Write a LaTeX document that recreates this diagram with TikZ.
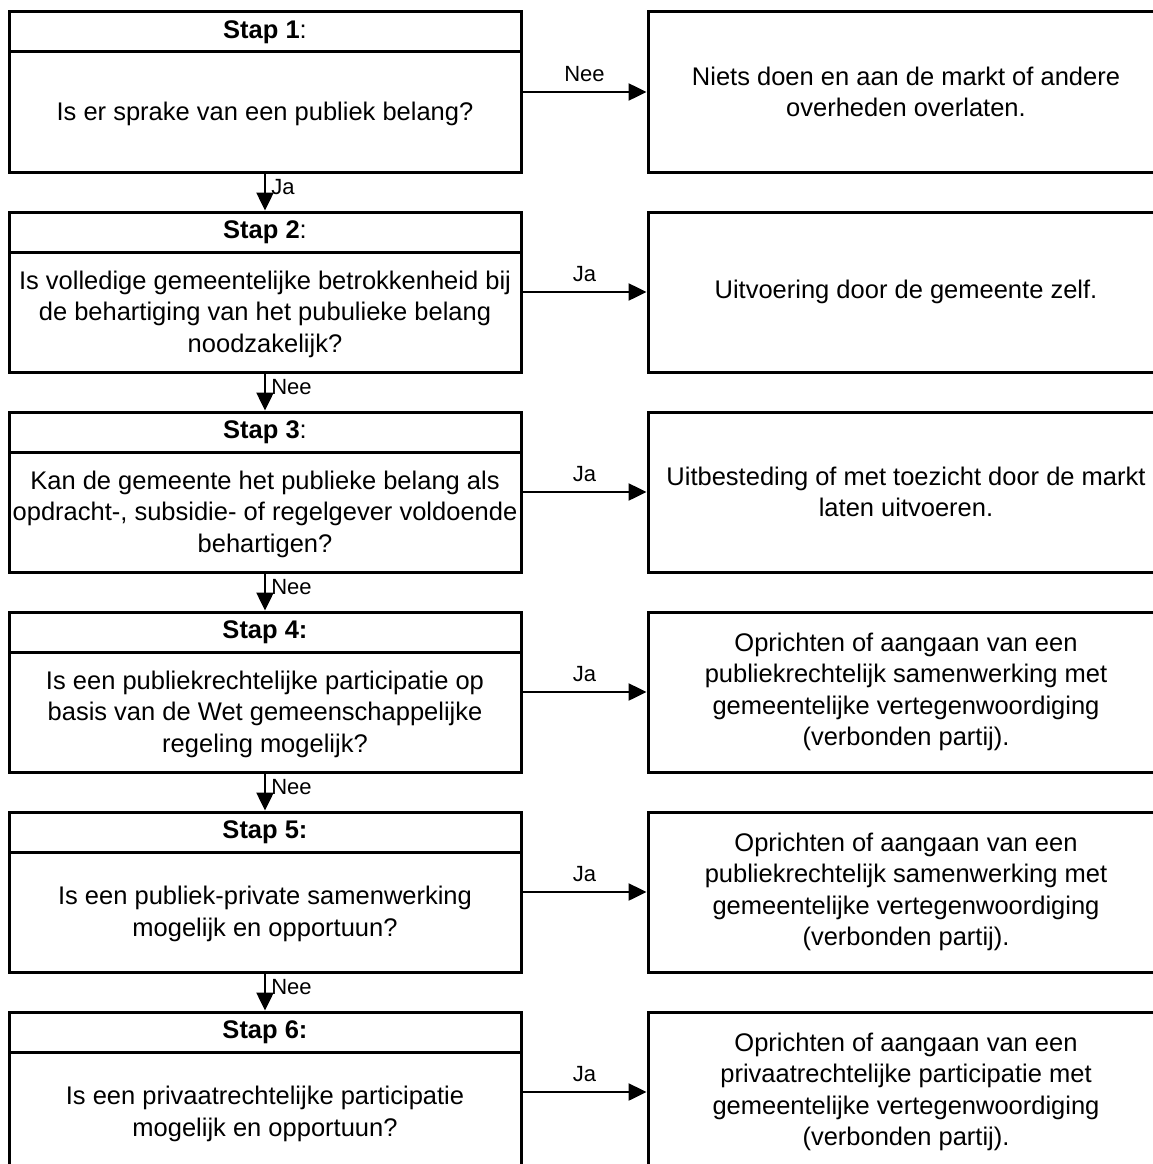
\documentclass[tikz,border=0pt]{standalone}
\usepackage{fontspec}
\setmainfont{Liberation Sans}
\usetikzlibrary{arrows.meta,positioning}

\tikzset{
  vak/.style={draw, line width=3pt, minimum width=512pt, minimum height=160pt, inner sep=0pt},
  kop/.style={draw, line width=3pt, minimum width=512pt, minimum height=40pt, inner sep=0pt,
    font=\fontsize{25.5}{31.5}\selectfont},
  vraag/.style={align=center, inner sep=0pt, font=\fontsize{25.5}{31.5}\selectfont},
  uitkomst/.style={draw, line width=3pt, minimum width=516pt, minimum height=160pt, inner sep=0pt,
    align=center, font=\fontsize{25.5}{31.5}\selectfont},
  pijl/.style={-{Triangle[length=18pt,width=17pt]}, line width=2.5pt},
  zij/.style={above=9pt, inner sep=0pt, font=\fontsize{22}{26}\selectfont},
  neer/.style={right=5pt, yshift=5pt, inner sep=0pt, font=\fontsize{22}{26}\selectfont}
}

\begin{document}
\begin{tikzpicture}[x=1pt, y=-1pt]
    \clip (0,0) rectangle (1153,1164);
    \useasboundingbox (0,0) rectangle (1153,1164);

    % Stap 1
    \node[vak] (stap1) at (265,92) {};
    \node[kop, anchor=north] (kop1) at (stap1.north) {\textbf{Stap 1}:};
    \node[vraag] (vraag1) at (265,114) {Is er sprake van een publiek belang?};
    \node[uitkomst] (uitk1) at (906,92) {Niets doen en aan de markt of andere\\overheden overlaten.};

    % Stap 2
    \node[vak] (stap2) at (265,292) {};
    \node[kop, anchor=north] (kop2) at (stap2.north) {\textbf{Stap 2}:};
    \node[vraag] (vraag2) at (265,314) {Is volledige gemeentelijke betrokkenheid bij\\de behartiging van het pubulieke belang\\noodzakelijk?};
    \node[uitkomst] (uitk2) at (906,292) {Uitvoering door de gemeente zelf.};

    % Stap 3
    \node[vak] (stap3) at (265,492) {};
    \node[kop, anchor=north] (kop3) at (stap3.north) {\textbf{Stap 3}:};
    \node[vraag] (vraag3) at (265,514) {Kan de gemeente het publieke belang als\\opdracht-, subsidie- of regelgever voldoende\\behartigen?};
    \node[uitkomst] (uitk3) at (906,492) {Uitbesteding of met toezicht door de markt\\laten uitvoeren.};

    % Stap 4
    \node[vak] (stap4) at (265,692) {};
    \node[kop, anchor=north] (kop4) at (stap4.north) {\textbf{Stap 4:}};
    \node[vraag] (vraag4) at (265,714) {Is een publiekrechtelijke participatie op\\basis van de Wet gemeenschappelijke\\regeling mogelijk?};
    \node[uitkomst] (uitk4) at (906,692) {Oprichten of aangaan van een\\publiekrechtelijk samenwerking met\\gemeentelijke vertegenwoordiging\\(verbonden partij).};

    % Stap 5
    \node[vak] (stap5) at (265,892) {};
    \node[kop, anchor=north] (kop5) at (stap5.north) {\textbf{Stap 5:}};
    \node[vraag] (vraag5) at (265,914) {Is een publiek-private samenwerking\\mogelijk en opportuun?};
    \node[uitkomst] (uitk5) at (906,892) {Oprichten of aangaan van een\\publiekrechtelijk samenwerking met\\gemeentelijke vertegenwoordiging\\(verbonden partij).};

    % Stap 6
    \node[vak] (stap6) at (265,1092) {};
    \node[kop, anchor=north] (kop6) at (stap6.north) {\textbf{Stap 6:}};
    \node[vraag] (vraag6) at (265,1114) {Is een privaatrechtelijke participatie\\mogelijk en opportuun?};
    \node[uitkomst] (uitk6) at (906,1092) {Oprichten of aangaan van een\\privaatrechtelijke participatie met\\gemeentelijke vertegenwoordiging\\(verbonden partij).};

    % Uitkomsten (naar rechts)
    \draw[pijl] (stap1.east) -- node[zij] {Nee} (uitk1.west);
    \draw[pijl] (stap2.east) -- node[zij] {Ja} (uitk2.west);
    \draw[pijl] (stap3.east) -- node[zij] {Ja} (uitk3.west);
    \draw[pijl] (stap4.east) -- node[zij] {Ja} (uitk4.west);
    \draw[pijl] (stap5.east) -- node[zij] {Ja} (uitk5.west);
    \draw[pijl] (stap6.east) -- node[zij] {Ja} (uitk6.west);

    % Volgende stap (omlaag)
    \draw[pijl] (stap1.south) -- node[neer] {Ja} (stap2.north);
    \draw[pijl] (stap2.south) -- node[neer] {Nee} (stap3.north);
    \draw[pijl] (stap3.south) -- node[neer] {Nee} (stap4.north);
    \draw[pijl] (stap4.south) -- node[neer] {Nee} (stap5.north);
    \draw[pijl] (stap5.south) -- node[neer] {Nee} (stap6.north);
\end{tikzpicture}
\end{document}
